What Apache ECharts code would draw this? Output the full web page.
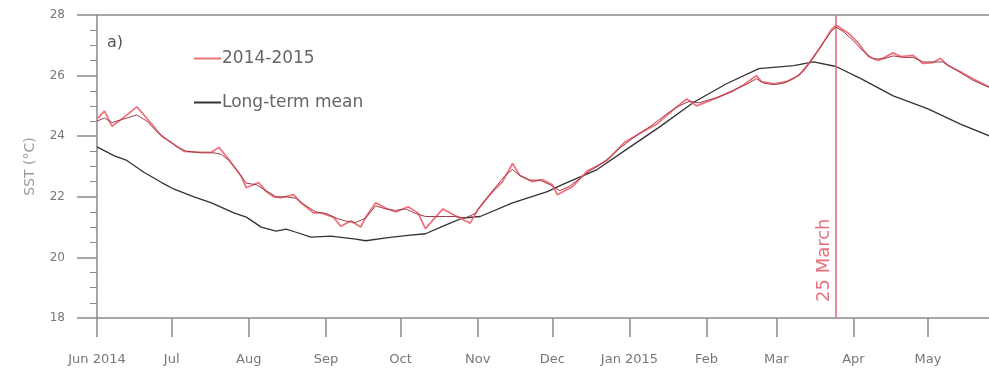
<!DOCTYPE html>
<html>
<head>
<meta charset="utf-8">
<script src="https://cdn.jsdelivr.net/npm/echarts@6/dist/echarts.min.js"></script>
<style>
  html, body { margin: 0; padding: 0; background: #fff; }
  #chart { width: 989px; height: 371px; }
</style>
</head>
<body>
<div id="chart"></div>
<script>
// Days are counted from 1 June 2014 (day 0).
const monthDays = [0, 30, 61, 92, 122, 153, 183, 214, 245, 273, 304, 334];
const monthLabels = ['Jun 2014', 'Jul', 'Aug', 'Sep', 'Oct', 'Nov', 'Dec', 'Jan 2015', 'Feb', 'Mar', 'Apr', 'May'];
const yTicks = [18, 20, 22, 24, 26, 28];
const markDay = 297;          // 25 March 2015
const markLabel = '25 March';

// 2014-2015 SST (light red line)
const obsDay = [0, 3, 6, 10, 16, 22, 26, 31, 35, 42, 46, 49, 53, 58, 60, 65, 68, 71, 74, 79, 82, 87, 90, 95, 98,
  102, 106, 108, 112, 116, 120, 125, 129, 132, 139, 145, 150, 153, 159, 163, 167, 170, 175, 179, 183, 185,
  191, 197, 205, 212, 219, 225, 232, 237, 241, 248, 255, 260, 265, 267, 272, 277, 282, 286, 291, 295, 297,
  302, 306, 310, 314, 320, 323, 328, 332, 336, 339, 342, 347, 352, 359];
const obsSST = [24.57, 24.83, 24.33, 24.57, 24.97, 24.4, 24.0, 23.73, 23.5, 23.47, 23.47, 23.63, 23.23, 22.67, 22.3,
  22.47, 22.17, 22.0, 21.97, 22.07, 21.8, 21.47, 21.47, 21.33, 21.03, 21.2, 21.0, 21.33, 21.8, 21.63, 21.5,
  21.67, 21.47, 20.95, 21.6, 21.33, 21.13, 21.57, 22.17, 22.5, 23.1, 22.7, 22.5, 22.57, 22.4, 22.07, 22.33,
  22.85, 23.2, 23.8, 24.13, 24.4, 24.9, 25.23, 25.0, 25.23, 25.47, 25.7, 26.0, 25.8, 25.73, 25.8, 26.0, 26.4,
  26.97, 27.5, 27.67, 27.4, 27.07, 26.63, 26.5, 26.75, 26.63, 26.67, 26.4, 26.43, 26.57, 26.33, 26.13, 25.9, 25.6];

// 2014-2015 daily SST (thin dark red line)
const dailyDay = [0, 3, 6, 10, 16, 20, 24, 28, 32, 36, 42, 47, 50, 53, 57, 60, 64, 68, 72, 76, 80, 84, 88, 92, 96,
  100, 104, 108, 112, 116, 120, 124, 128, 132, 136, 140, 144, 148, 152, 156, 160, 164, 167, 170, 174, 178, 182,
  186, 190, 194, 198, 202, 206, 210, 214, 218, 222, 226, 230, 234, 238, 242, 246, 250, 254, 258, 262, 265,
  268, 272, 276, 280, 284, 288, 292, 295, 297, 300, 304, 308, 312, 316, 320, 324, 328, 332, 336, 340, 344,
  348, 352, 356, 359];
const dailySST = [24.5, 24.6, 24.45, 24.55, 24.7, 24.5, 24.15, 23.9, 23.65, 23.5, 23.45, 23.45, 23.4, 23.2, 22.8,
  22.45, 22.4, 22.2, 22.0, 22.0, 21.95, 21.7, 21.5, 21.45, 21.3, 21.2, 21.15, 21.3, 21.7, 21.6, 21.55, 21.6,
  21.45, 21.35, 21.35, 21.35, 21.35, 21.3, 21.45, 21.9, 22.3, 22.7, 22.9, 22.7, 22.55, 22.55, 22.4, 22.2, 22.35,
  22.6, 22.85, 23.05, 23.3, 23.6, 23.85, 24.1, 24.3, 24.55, 24.8, 25.0, 25.15, 25.1, 25.2, 25.3, 25.45, 25.6,
  25.75, 25.9, 25.75, 25.7, 25.75, 25.9, 26.15, 26.6, 27.1, 27.45, 27.6, 27.45, 27.15, 26.8, 26.55, 26.55,
  26.65, 26.6, 26.6, 26.45, 26.45, 26.45, 26.25, 26.05, 25.85, 25.7, 25.6];

// Long-term mean SST (black line)
const meanDay = [0, 7, 12, 19, 26, 31, 39, 46, 55, 60, 66, 72, 76, 80, 86, 94, 104, 108, 117, 125, 132, 141, 147,
  154, 167, 181, 187, 201, 214, 226, 240, 253, 266, 280, 288, 297, 307, 320, 334, 347, 359];
const meanSST = [23.65, 23.35, 23.2, 22.8, 22.47, 22.25, 22.0, 21.8, 21.47, 21.33, 21.0, 20.87, 20.93, 20.83, 20.67,
  20.7, 20.6, 20.55, 20.65, 20.73, 20.78, 21.1, 21.3, 21.35, 21.8, 22.17, 22.4, 22.9, 23.63, 24.3, 25.13, 25.73,
  26.23, 26.33, 26.45, 26.3, 25.9, 25.33, 24.9, 24.4, 24.0];

const pair = (xs, ys) => xs.map((x, i) => [x, ys[i]]);

const axisGray = '#8a8a8a';
const labelGray = '#777777';
const redLight = '#ef6f7b';
const redDark = '#a23a48';
const markRed = '#e8707d';

const chart = echarts.init(document.getElementById('chart'), null, { renderer: 'canvas' });

chart.setOption({
  animation: false,
  backgroundColor: '#ffffff',
  grid: { left: 97, right: 0, top: 15, bottom: 53, containLabel: false },
  legend: {
    data: ['2014-2015', 'Long-term mean'],
    orient: 'vertical',
    left: 189,
    top: 45,
    itemGap: 27,
    itemWidth: 27,
    itemHeight: 2,
    icon: 'rect',
    textStyle: { fontFamily: 'DejaVu Sans', fontSize: 17, color: '#666', padding: [0, 0, 0, -4] }
  },
  xAxis: [{
    type: 'value',
    min: 0,
    max: 358.5,
    axisLine: { show: true, lineStyle: { color: axisGray, width: 1.5 } },
    axisTick: { show: true, customValues: monthDays, length: 19, lineStyle: { color: axisGray, width: 1.5 } },
    axisLabel: {
      customValues: monthDays,
      margin: 35,
      fontFamily: 'DejaVu Sans',
      fontSize: 13,
      color: labelGray,
      formatter: v => monthLabels[monthDays.indexOf(v)] || ''
    },
    splitLine: { show: false }
  }, {
    type: 'value',
    position: 'top',
    min: 0,
    max: 358.5,
    axisLine: { show: true, onZero: false, lineStyle: { color: axisGray, width: 1.5 } },
    axisTick: { show: false },
    axisLabel: { show: false },
    splitLine: { show: false }
  }],
  yAxis: {
    type: 'value',
    min: yTicks[0],
    max: yTicks[yTicks.length - 1],
    interval: 2,
    name: 'SST (°C)',
    nameLocation: 'middle',
    nameRotate: 90,
    nameGap: 60,
    nameTextStyle: { fontFamily: 'DejaVu Sans', fontSize: 14, color: '#9a9a9a' },
    axisLine: { show: true, lineStyle: { color: axisGray, width: 1.5 } },
    axisTick: { show: true, length: 20, lineStyle: { color: axisGray, width: 1.5 } },
    minorTick: { show: true, splitNumber: 4, length: 7, lineStyle: { color: axisGray, width: 1 } },
    axisLabel: { margin: 32, fontFamily: 'DejaVu Sans', fontSize: 12, color: labelGray },
    splitLine: { show: false }
  },
  graphic: [{
    type: 'text',
    left: 107,
    top: 35,
    style: { text: 'a)', fontFamily: 'DejaVu Sans', fontSize: 16, fill: '#555' }
  }],
  series: [{
    name: 'Long-term mean',
    type: 'line',
    data: pair(meanDay, meanSST),
    showSymbol: false,
    color: '#333',
    lineStyle: { color: '#333', width: 1.3 },
    z: 3
  }, {
    name: '2014-2015',
    type: 'line',
    data: pair(obsDay, obsSST),
    showSymbol: false,
    color: redLight,
    lineStyle: { color: redLight, width: 1.7 },
    z: 4,
    markLine: {
      silent: true,
      symbol: 'none',
      lineStyle: { color: markRed, width: 1.6, type: 'solid' },
      label: {
        show: true,
        position: 'insideStartTop',
        formatter: markLabel,
        fontFamily: 'DejaVu Sans',
        fontSize: 18,
        color: markRed,
        distance: [16, 3]
      },
      data: [{ xAxis: markDay }]
    }
  }, {
    name: '2014-2015 daily',
    type: 'line',
    data: pair(dailyDay, dailySST),
    showSymbol: false,
    color: redDark,
    lineStyle: { color: redDark, width: 1 },
    z: 5
  }]
});
</script>
</body>
</html>
